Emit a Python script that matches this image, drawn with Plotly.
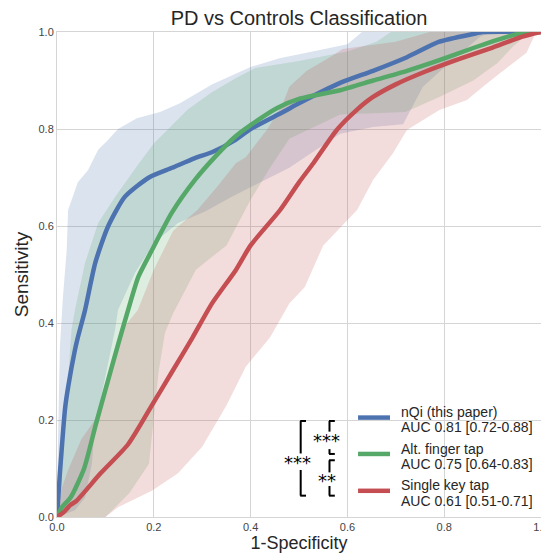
import plotly.graph_objects as go

# ---------------- data ----------------
series_labels = ["nQi (this paper)", "Alt. finger tap", "Single key tap"]
series_auc = ["AUC 0.81 [0.72-0.88]", "AUC 0.75 [0.64-0.83]", "AUC 0.61 [0.51-0.71]"]
series_colors = ["#4C72B0", "#55A868", "#C44E52"]

# mean ROC curves
nqi_fpr = [0, 0.006, 0.017, 0.023, 0.037, 0.043, 0.058, 0.079, 0.105, 0.14, 0.19, 0.238, 0.285, 0.32, 0.368, 0.40, 0.467, 0.50, 0.585, 0.653, 0.723, 0.79, 0.86, 0.88, 1.0]
nqi_tpr = [0, 0.09, 0.227, 0.268, 0.344, 0.37, 0.427, 0.524, 0.598, 0.66, 0.70, 0.72, 0.74, 0.752, 0.777, 0.80, 0.835, 0.853, 0.895, 0.92, 0.948, 0.98, 0.996, 1.0, 1.0]

alt_fpr = [0, 0.01, 0.028, 0.056, 0.08, 0.105, 0.126, 0.147, 0.168, 0.196, 0.237, 0.285, 0.326, 0.368, 0.40, 0.454, 0.50, 0.585, 0.653, 0.723, 0.79, 0.86, 0.93, 0.97, 1.0]
alt_tpr = [0, 0.02, 0.04, 0.10, 0.19, 0.28, 0.355, 0.427, 0.495, 0.55, 0.627, 0.695, 0.742, 0.784, 0.808, 0.843, 0.862, 0.88, 0.90, 0.92, 0.942, 0.967, 0.99, 1.0, 1.0]

key_fpr = [0, 0.014, 0.028, 0.04, 0.09, 0.147, 0.196, 0.238, 0.28, 0.32, 0.37, 0.40, 0.461, 0.50, 0.53, 0.578, 0.62, 0.653, 0.70, 0.76, 0.83, 0.90, 0.96, 1.0]
key_tpr = [0, 0.01, 0.025, 0.033, 0.09, 0.15, 0.23, 0.30, 0.37, 0.44, 0.51, 0.56, 0.633, 0.69, 0.73, 0.798, 0.84, 0.866, 0.892, 0.918, 0.944, 0.968, 0.99, 1.0]

# confidence bands: upper and lower bounds
nqi_up_fpr = [0, 0.003, 0.006, 0.012, 0.02, 0.023, 0.043, 0.064, 0.085, 0.105, 0.126, 0.165, 0.213, 0.254, 0.32, 0.40, 0.46, 0.543, 0.60, 0.63, 1.0]
nqi_up_tpr = [0.05, 0.2, 0.35, 0.45, 0.55, 0.633, 0.69, 0.715, 0.757, 0.777, 0.80, 0.822, 0.835, 0.853, 0.892, 0.928, 0.946, 0.963, 0.975, 1.0, 1.0]
nqi_lo_fpr = [0, 0.037, 0.058, 0.072, 0.078, 0.10, 0.12, 0.126, 0.161, 0.20, 0.25, 0.306, 0.36, 0.42, 0.48, 0.585, 0.653, 0.715, 0.756, 0.81, 0.874, 0.90, 1.0]
nqi_lo_tpr = [0, 0.014, 0.04, 0.11, 0.186, 0.29, 0.386, 0.427, 0.503, 0.565, 0.606, 0.63, 0.66, 0.69, 0.72, 0.79, 0.804, 0.81, 0.887, 0.936, 0.99, 1.0, 1.0]

alt_up_fpr = [0, 0.005, 0.017, 0.03, 0.037, 0.058, 0.085, 0.12, 0.165, 0.20, 0.23, 0.27, 0.32, 0.37, 0.41, 0.50, 0.60, 0.66, 0.69, 1.0]
alt_up_tpr = [0.01, 0.1, 0.2, 0.386, 0.427, 0.524, 0.606, 0.66, 0.723, 0.77, 0.80, 0.84, 0.876, 0.905, 0.926, 0.94, 0.96, 0.98, 1.0, 1.0]
alt_lo_fpr = [0, 0.10, 0.15, 0.19, 0.20, 0.21, 0.223, 0.24, 0.287, 0.35, 0.40, 0.44, 0.48, 0.585, 0.72, 0.79, 0.86, 0.91, 0.942, 0.97, 1.0]
alt_lo_tpr = [0, 0, 0.05, 0.11, 0.2, 0.3, 0.38, 0.42, 0.51, 0.56, 0.654, 0.72, 0.78, 0.83, 0.835, 0.866, 0.90, 0.936, 0.97, 0.994, 1.0]

key_up_fpr = [0, 0.01, 0.023, 0.05, 0.078, 0.10, 0.12, 0.134, 0.167, 0.20, 0.24, 0.29, 0.33, 0.37, 0.39, 0.435, 0.467, 0.48, 0.516, 0.564, 0.59, 0.70, 0.77, 1.0]
key_up_tpr = [0.01, 0.06, 0.097, 0.16, 0.2, 0.26, 0.32, 0.386, 0.427, 0.51, 0.59, 0.633, 0.68, 0.73, 0.742, 0.80, 0.853, 0.887, 0.92, 0.948, 0.965, 0.98, 1.0, 1.0]
key_lo_fpr = [0, 0.10, 0.126, 0.196, 0.25, 0.30, 0.35, 0.39, 0.44, 0.48, 0.512, 0.55, 0.62, 0.653, 0.694, 0.723, 0.756, 0.79, 0.847, 0.88, 0.915, 0.942, 0.97, 0.99, 1.0]
key_lo_tpr = [0, 0, 0.02, 0.054, 0.09, 0.145, 0.23, 0.31, 0.37, 0.44, 0.474, 0.56, 0.633, 0.695, 0.75, 0.798, 0.818, 0.839, 0.86, 0.887, 0.915, 0.936, 0.957, 1.0, 1.0]

x_ticks = [0.0, 0.2, 0.4, 0.6, 0.8, 1.0]
y_ticks = [0.0, 0.2, 0.4, 0.6, 0.8, 1.0]

# significance brackets: (x, y_top, y_bottom, gap_top, gap_bottom, label, label_x, label_y)
brackets = [
    (0.5035, 0.198, 0.044, 0.131, 0.097, "***", 0.4965, 0.112),
    (0.563, 0.198, 0.130, 0.176, 0.140, "***", 0.5565, 0.157),
    (0.563, 0.117, 0.044, 0.092, 0.064, "**", 0.5575, 0.075),
]
bracket_tick = 0.011

# manual legend placement (data coordinates, axes span 0..1)
legend_line_x = (0.622, 0.688)
legend_text_x = 0.707
legend_line_y = [0.205, 0.130, 0.054]
legend_text_dy = (0.011, -0.020)

FONT = "Liberation Sans, Arial, sans-serif"
TXT = "#262626"

# the page body has an 8 px margin, so the figure is drawn from (8, 8)
PAGE_OFF = 8
FIG_W, FIG_H = 549 - PAGE_OFF, 556 - PAGE_OFF

fig = go.Figure()

bands = [
    (nqi_up_fpr, nqi_up_tpr, nqi_lo_fpr, nqi_lo_tpr),
    (alt_up_fpr, alt_up_tpr, alt_lo_fpr, alt_lo_tpr),
    (key_up_fpr, key_up_tpr, key_lo_fpr, key_lo_tpr),
]

def rgba(hexc, a):
    h = hexc.lstrip("#")
    return "rgba(%d,%d,%d,%.2f)" % (int(h[0:2], 16), int(h[2:4], 16), int(h[4:6], 16), a)

for (uf, ut, lf, lt), col in zip(bands, series_colors):
    fig.add_trace(go.Scatter(
        x=list(uf) + list(lf)[::-1],
        y=list(ut) + list(lt)[::-1],
        fill="toself", fillcolor=rgba(col, 0.2),
        line=dict(width=0), mode="lines",
        hoverinfo="skip", showlegend=False,
    ))

curves = [(nqi_fpr, nqi_tpr), (alt_fpr, alt_tpr), (key_fpr, key_tpr)]
for (fx, ty), col, lab, auc in zip(curves, series_colors, series_labels, series_auc):
    fig.add_trace(go.Scatter(
        x=fx, y=ty, mode="lines", name=lab + " " + auc,
        line=dict(color=col, width=4.5, shape="spline", smoothing=0.6),
        showlegend=False,
    ))

shapes = []
annotations = []
for (bx, yt, yb, g1, g2, lab, lx, ly) in brackets:
    line = dict(color="black", width=2)
    shapes.append(dict(type="line", xref="x", yref="y", x0=bx, x1=bx, y0=yt, y1=g1, line=line))
    shapes.append(dict(type="line", xref="x", yref="y", x0=bx, x1=bx, y0=g2, y1=yb, line=line))
    shapes.append(dict(type="line", xref="x", yref="y", x0=bx - 0.001, x1=bx + bracket_tick, y0=yt, y1=yt, line=line))
    shapes.append(dict(type="line", xref="x", yref="y", x0=bx - 0.001, x1=bx + bracket_tick, y0=yb, y1=yb, line=line))
    annotations.append(dict(x=lx, y=ly, xref="x", yref="y", text=lab, showarrow=False,
                            xanchor="center", yanchor="middle",
                            font=dict(family="DejaVu Sans", size=18, color="black")))

# manual legend
for col, lab, auc, ly in zip(series_colors, series_labels, series_auc, legend_line_y):
    shapes.append(dict(type="line", xref="x", yref="y", x0=legend_line_x[0], x1=legend_line_x[1],
                       y0=ly, y1=ly, line=dict(color=col, width=4.5)))
    for txt, dy in zip((lab, auc), legend_text_dy):
        annotations.append(dict(x=legend_text_x, y=ly + dy, xref="x", yref="y", text=txt,
                                showarrow=False, xanchor="left", yanchor="middle",
                                font=dict(family=FONT, size=14, color=TXT)))

fig.update_layout(
    width=FIG_W, height=FIG_H,
    margin=dict(l=57 - PAGE_OFF, r=FIG_W - (541 - PAGE_OFF), t=32 - PAGE_OFF,
                b=FIG_H - (517 - PAGE_OFF), autoexpand=False),
    paper_bgcolor="white", plot_bgcolor="white",
    title=dict(text="PD vs Controls Classification",
               x=((57 + 541) / 2 - PAGE_OFF) / FIG_W, xanchor="center",
               y=1 - (18 - PAGE_OFF) / FIG_H, yanchor="middle", yref="container",
               font=dict(family=FONT, size=20, color=TXT)),
    font=dict(family=FONT, color=TXT),
    shapes=shapes, annotations=annotations,
    showlegend=False,
)
fig.update_xaxes(range=[0, 1], tickvals=x_ticks, ticktext=["%.1f" % v for v in x_ticks],
                 showgrid=True, gridcolor="#d5d5d5", gridwidth=1, zeroline=False,
                 showline=True, linecolor="#d5d5d5", mirror=True, ticks="",
                 automargin=False,
                 tickfont=dict(family=FONT, size=11, color="#444"),
                 title=dict(text="1-Specificity", font=dict(family=FONT, size=18, color=TXT), standoff=2))
fig.update_yaxes(range=[0, 1], tickvals=y_ticks, ticktext=["%.1f" % v for v in y_ticks],
                 showgrid=True, gridcolor="#d5d5d5", gridwidth=1, zeroline=False,
                 showline=True, linecolor="#d5d5d5", mirror=True, ticks="",
                 automargin=False,
                 tickfont=dict(family=FONT, size=11, color="#444"),
                 title=dict(text="Sensitivity", font=dict(family=FONT, size=19, color=TXT), standoff=4))

fig.write_html("out.html")
